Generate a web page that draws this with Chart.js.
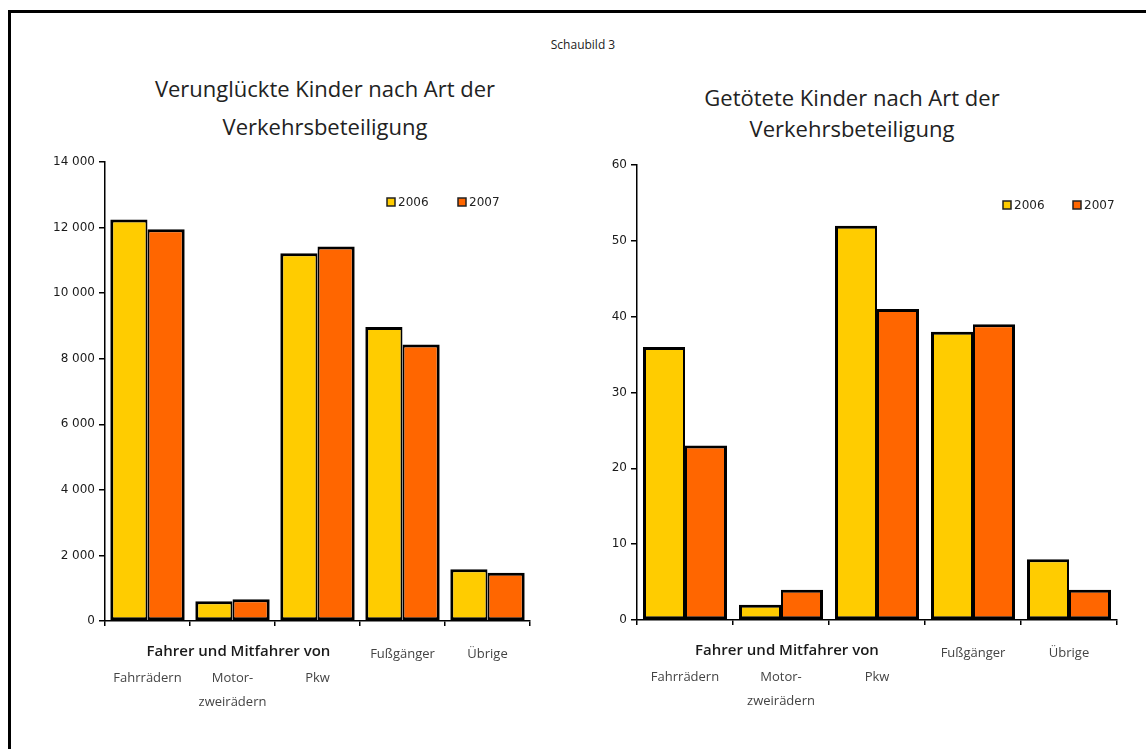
<!DOCTYPE html>
<html lang="de">
<head>
<meta charset="utf-8">
<title>Schaubild 3</title>
<script src="https://cdn.jsdelivr.net/npm/chart.js@4.4.1/dist/chart.umd.min.js"></script>
<style>
  html, body { margin: 0; padding: 0; background: #fff; }
  body { width: 1146px; height: 749px; position: relative; overflow: hidden; }
  .frame { position: absolute; left: 8px; top: 10px; width: 1160px; height: 760px;
           border: 3px solid #000; box-sizing: border-box; }
  .txt { position: absolute; font-family: 'Open Sans', sans-serif;
         color: #222; text-align: center; white-space: nowrap; }
  .head { left: 483px; width: 200px; top: 36px; font-size: 12px; }
  .title { font-size: 22px; line-height: 38px; }
  #t1 { left: 125px; width: 400px; top: 69px; }
  #t2 { left: 652px; width: 400px; top: 82px; line-height: 31px; }
  canvas { position: absolute; }
</style>
</head>
<body>
<div class="frame"></div>
<div class="txt head">Schaubild 3</div>
<div class="txt title" id="t1">Verunglückte Kinder nach Art der<br>Verkehrsbeteiligung</div>
<div class="txt title" id="t2">Getötete Kinder nach Art der<br>Verkehrsbeteiligung</div>
<canvas id="c1" width="540" height="590" style="left:20px;top:150px;width:540px;height:590px"></canvas>
<canvas id="c2" width="560" height="590" style="left:580px;top:150px;width:560px;height:590px"></canvas>
<script>
// Categories of road users and their axis labels (first line reserved for the group caption)
const categories = ["Fahrrädern", "Motorzweirädern", "Pkw", "Fußgänger", "Übrige"];
const tickLabels = [["", "Fahrrädern"], ["", "Motor-", "zweirädern"], ["", "Pkw"], ["Fußgänger"], ["Übrige"]];
const groupCaption = "Fahrer und Mitfahrer von";
const years = ["2006", "2007"];

// Injured children
const injured2006 = [12250, 600, 11220, 8970, 1580];
const injured2007 = [11950, 660, 11420, 8430, 1470];
// Killed children
const killed2006 = [36, 2, 52, 38, 8];
const killed2007 = [23, 4, 41, 39, 4];

const yellow = "#FFCC00";
const orange = "#FF6600";
const tickFont = { family: "'DejaVu Sans', sans-serif", size: 12 };
const labelFont = "'Open Sans', sans-serif";

const fmt = v => String(v).replace(/\B(?=(\d{3})+(?!\d))/g, " ");

// Group caption spanning the first three categories, plus a small legend inside the plot
const extras = {
  id: "extras",
  afterDraw(chart, args, opts) {
    const { ctx, chartArea } = chart;
    const x = chart.scales.x;
    ctx.save();
    ctx.fillStyle = "#1a1a1a";
    ctx.font = "600 15px " + labelFont;
    ctx.textAlign = "center";
    ctx.textBaseline = "middle";
    const cx = (x.getPixelForValue(0) + x.getPixelForValue(2)) / 2 + 6;
    ctx.fillText(groupCaption, cx, chartArea.bottom + opts.captionDy);

    // legend
    ctx.font = "12px 'DejaVu Sans', sans-serif";
    ctx.textAlign = "left";
    let lx = chartArea.right + opts.legendDx;
    const ly = chartArea.top + opts.legendDy;
    chart.data.datasets.forEach(ds => {
      ctx.fillStyle = ds.backgroundColor;
      ctx.fillRect(lx, ly - 4, 8, 8);
      ctx.strokeStyle = "#222";
      ctx.lineWidth = 1.5;
      ctx.strokeRect(lx, ly - 4, 8, 8);
      ctx.fillStyle = "#222";
      ctx.fillText(ds.label, lx + 11, ly + 1);
      lx += opts.legendGap;
    });
    ctx.restore();
  }
};

function makeChart(id, d2006, d2007, yMax, yStep, yWidth, xHeight, pad, extraOpts) {
  return new Chart(document.getElementById(id), {
    type: "bar",
    data: {
      labels: categories,
      datasets: [
        { label: years[0], data: d2006, backgroundColor: yellow,
          borderWidth: { top: 3, left: 3, bottom: 3, right: 2 } },
        { label: years[1], data: d2007, backgroundColor: orange,
          borderWidth: { top: 3, left: 2, bottom: 3, right: 3 } }
      ]
    },
    options: {
      responsive: false,
      animation: false,
      layout: { padding: pad },
      datasets: {
        bar: {
          categoryPercentage: 0.875, barPercentage: 1.0,
          borderColor: "#000", borderSkipped: false
        }
      },
      plugins: { legend: { display: false }, title: { display: false }, tooltip: { enabled: false }, extras: extraOpts },
      scales: {
        x: {
          offset: true,
          grid: { display: true, offset: true, drawOnChartArea: false, drawTicks: true, tickLength: 5, color: "#000", lineWidth: 1.5 },
          border: { display: true, color: "#000", width: 1.5 },
          ticks: {
            autoSkip: false, maxRotation: 0, padding: 16, color: "#444",
            font: { family: labelFont, size: 13, lineHeight: 1.85 },
            callback: (v, i) => tickLabels[i]
          },
          afterFit: s => { s.height = xHeight; }
        },
        y: {
          min: 0, max: yMax,
          grid: { display: true, drawOnChartArea: false, drawTicks: true, tickLength: 6, color: "#000", lineWidth: 1.5 },
          border: { display: true, color: "#000", width: 1.5 },
          ticks: { stepSize: yStep, padding: 4, color: "#1a1a1a", font: tickFont, callback: v => fmt(v) },
          afterFit: s => { s.width = yWidth; }
        }
      }
    },
    plugins: [extras]
  });
}

makeChart("c1", injured2006, injured2007, 14000, 2000, 85, 119,
  { top: 12, right: 30, left: 0, bottom: 0 },
  { captionDy: 31, legendDx: -143, legendDy: 40, legendGap: 71 });
makeChart("c2", killed2006, killed2007, 60, 10, 57, 120,
  { top: 15, right: 23, left: 0, bottom: 0 },
  { captionDy: 31, legendDx: -114, legendDy: 40, legendGap: 70 });
</script>
</body>
</html>
